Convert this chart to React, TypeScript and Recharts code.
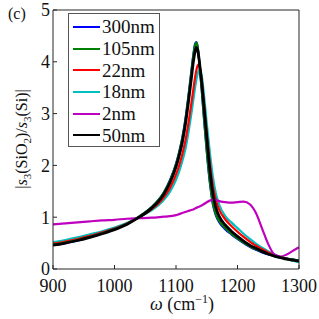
import { Line, LineChart, XAxis, YAxis } from 'recharts';

const wavenumbers = [
  900, 920, 940, 960, 980, 1000, 1020, 1040, 1060, 1080, 1090, 1100, 1105, 1110, 1115,
  1120, 1125, 1128, 1131, 1133, 1135, 1137, 1139, 1142, 1145, 1150, 1155, 1160, 1165,
  1170, 1180, 1190, 1200, 1210, 1220, 1230, 1240, 1250, 1260, 1270, 1280, 1290, 1300,
];

const s300nm = [
  0.46, 0.5, 0.55, 0.62, 0.69, 0.77, 0.87, 1.01, 1.19, 1.47, 1.71, 2.03, 2.25, 2.52, 2.87,
  3.32, 3.82, 4.12, 4.34, 4.38, 4.3, 4.1, 3.84, 3.43, 2.97, 2.27, 1.67, 1.25, 1.03,
  0.91, 0.77, 0.67, 0.58, 0.5, 0.43, 0.37, 0.32, 0.28, 0.25, 0.22, 0.2, 0.18, 0.16,
];
const s105nm = [
  0.47, 0.51, 0.56, 0.62, 0.69, 0.77, 0.87, 1.01, 1.19, 1.47, 1.7, 2.02, 2.24, 2.5, 2.85,
  3.3, 3.8, 4.1, 4.32, 4.37, 4.3, 4.1, 3.85, 3.45, 3.0, 2.3, 1.7, 1.27, 1.05,
  0.93, 0.79, 0.68, 0.59, 0.51, 0.44, 0.38, 0.33, 0.29, 0.25, 0.22, 0.2, 0.18, 0.16,
];
const s22nm = [
  0.49, 0.53, 0.58, 0.64, 0.71, 0.78, 0.88, 1.0, 1.15, 1.38, 1.56, 1.82, 1.99, 2.2, 2.46,
  2.8, 3.2, 3.45, 3.7, 3.83, 3.92, 3.95, 3.88, 3.62, 3.25, 2.62, 2.05, 1.6, 1.32,
  1.15, 0.96, 0.83, 0.72, 0.62, 0.53, 0.45, 0.38, 0.32, 0.27, 0.23, 0.2, 0.18, 0.15,
];
const s18nm = [
  0.52, 0.56, 0.61, 0.67, 0.73, 0.8, 0.89, 1.0, 1.13, 1.33, 1.49, 1.72, 1.88, 2.07, 2.3,
  2.62, 3.0, 3.25, 3.5, 3.65, 3.76, 3.83, 3.85, 3.72, 3.42, 2.82, 2.25, 1.78, 1.45,
  1.25, 1.02, 0.9, 0.79, 0.68, 0.58, 0.49, 0.41, 0.34, 0.28, 0.23, 0.19, 0.16, 0.13,
];
const s2nm = [
  0.86, 0.88, 0.9, 0.92, 0.94, 0.95, 0.97, 0.98, 0.99, 1.01, 1.02, 1.04, 1.06, 1.08, 1.1,
  1.12, 1.14, 1.15, 1.17, 1.18, 1.19, 1.2, 1.21, 1.23, 1.25, 1.29, 1.32, 1.34, 1.33,
  1.31, 1.29, 1.28, 1.29, 1.3, 1.25, 1.08, 0.78, 0.48, 0.28, 0.24, 0.28, 0.35, 0.42,
];
const s50nm = [
  0.46, 0.5, 0.55, 0.61, 0.68, 0.76, 0.86, 1.0, 1.17, 1.44, 1.66, 1.97, 2.18, 2.43, 2.77,
  3.2, 3.68, 3.98, 4.2, 4.28, 4.24, 4.1, 3.9, 3.58, 3.2, 2.55, 1.92, 1.45, 1.18,
  1.02, 0.85, 0.73, 0.63, 0.54, 0.46, 0.4, 0.34, 0.29, 0.25, 0.22, 0.19, 0.17, 0.15,
];

const xTicks = [900, 1000, 1100, 1200, 1300];
const yTicks = [0, 1, 2, 3, 4, 5];

// legend order as in the figure
const legendItems = [
  { key: 's300nm', name: '300nm', color: '#0000ff' },
  { key: 's105nm', name: '105nm', color: '#008000' },
  { key: 's22nm', name: '22nm', color: '#ff0000' },
  { key: 's18nm', name: '18nm', color: '#00bfbf' },
  { key: 's2nm', name: '2nm', color: '#bf00bf' },
  { key: 's50nm', name: '50nm', color: '#000000' },
];

// drawing order (bottom to top)
const drawOrder = ['s18nm', 's22nm', 's300nm', 's105nm', 's2nm', 's50nm'];

const data = wavenumbers.map((w, i) => ({
  w,
  s300nm: s300nm[i],
  s105nm: s105nm[i],
  s22nm: s22nm[i],
  s18nm: s18nm[i],
  s2nm: s2nm[i],
  s50nm: s50nm[i],
}));

const FONT = '"Liberation Serif", "DejaVu Serif", serif';
const AXIS = '#262626';

export default function App() {
  return (
    <div style={{ position: 'relative', width: 319, height: 319, background: '#fff' }}>
      <style>{'body{margin:0}'}</style>
      <LineChart
        width={319}
        height={319}
        data={data}
        margin={{ top: 9, right: 19, bottom: 0, left: 0 }}
      >
        <XAxis
          dataKey="w"
          type="number"
          domain={[900, 1300]}
          ticks={xTicks}
          interval={0}
          height={50}
          stroke={AXIS}
          tickSize={-4}
          tickMargin={14}
          tick={{ fontFamily: FONT, fontSize: 18, fill: '#111' }}
          allowDataOverflow
        />
        <XAxis
          xAxisId="top"
          orientation="top"
          dataKey="w"
          type="number"
          domain={[900, 1300]}
          ticks={xTicks}
          interval={0}
          height={1}
          stroke={AXIS}
          tickSize={-4}
          tick={false}
        />
        <YAxis
          type="number"
          domain={[0, 5]}
          ticks={yTicks}
          interval={0}
          width={53}
          stroke={AXIS}
          tickSize={-4}
          tickMargin={7}
          tick={{ fontFamily: FONT, fontSize: 18, fill: '#111' }}
          allowDataOverflow
        />
        <YAxis
          yAxisId="right"
          orientation="right"
          type="number"
          domain={[0, 5]}
          ticks={yTicks}
          interval={0}
          width={1}
          stroke={AXIS}
          tickSize={-4}
          tick={false}
        />
        {drawOrder.map((k) => {
          const it = legendItems.find((l) => l.key === k)!;
          return (
            <Line
              key={k}
              dataKey={k}
              name={it.name}
              type="monotone"
              stroke={it.color}
              strokeWidth={k === 's50nm' ? 2.8 : 2.2}
              dot={false}
              isAnimationActive={false}
            />
          );
        })}
        <text x={8} y={19} fontFamily={FONT} fontSize={16} fill="#111">
          (c)
        </text>
        <text x={182} y={310} textAnchor="middle" fontFamily={FONT} fontSize={18} fill="#111">
          <tspan fontStyle="italic">ω</tspan>
          <tspan> (cm</tspan>
          <tspan fontSize={12} dy={-7}>−1</tspan>
          <tspan dy={7}>)</tspan>
        </text>
        <text
          transform="translate(27,139) rotate(-90)"
          textAnchor="middle"
          fontFamily={FONT}
          fontSize={16}
          fill="#111"
        >
          <tspan>|</tspan>
          <tspan fontStyle="italic">s</tspan>
          <tspan fontSize={11} dy={4}>3</tspan>
          <tspan dy={-4}>(SiO</tspan>
          <tspan fontSize={11} dy={4}>2</tspan>
          <tspan dy={-4}>)/</tspan>
          <tspan fontStyle="italic">s</tspan>
          <tspan fontSize={11} dy={4}>3</tspan>
          <tspan dy={-4}>(Si)|</tspan>
        </text>
      </LineChart>
      <div
        style={{
          position: 'absolute',
          left: 68,
          top: 13,
          width: 92,
          height: 134,
          border: '1px solid #555',
          background: '#fff',
          fontFamily: FONT,
          fontSize: 19,
          boxSizing: 'border-box',
          paddingTop: 2,
        }}
      >
        {legendItems.map((it) => (
          <div key={it.key} style={{ display: 'flex', alignItems: 'center', height: 21.7 }}>
            <div
              style={{ width: 27, height: 2, background: it.color, marginLeft: 4, marginRight: 2 }}
            />
            <span style={{ lineHeight: '19px', color: '#111' }}>{it.name}</span>
          </div>
        ))}
      </div>
    </div>
  );
}
